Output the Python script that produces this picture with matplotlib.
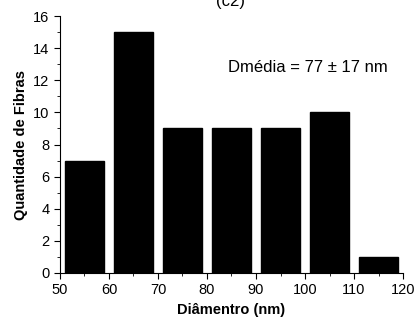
import matplotlib
matplotlib.use("Agg")
import matplotlib.pyplot as plt
from matplotlib.ticker import MultipleLocator

plt.rcParams['font.family'] = ['Liberation Sans', 'DejaVu Sans']

# histogram of fibre diameters
centers = [55, 65, 75, 85, 95, 105, 115]
counts = [7, 15, 9, 9, 9, 10, 1]

fig = plt.figure(figsize=(4.19, 3.23), dpi=100)
ax = fig.add_axes([0.143, 0.155, 0.819, 0.795])

ax.bar(centers, counts, width=8, color='black', edgecolor='black')

ax.set_xlim(50, 120)
ax.set_ylim(0, 16)
ax.xaxis.set_major_locator(MultipleLocator(10))
ax.xaxis.set_minor_locator(MultipleLocator(5))
ax.yaxis.set_major_locator(MultipleLocator(2))
ax.yaxis.set_minor_locator(MultipleLocator(1))
ax.tick_params(which='both', direction='out', labelsize=10.5)
ax.tick_params(which='major', length=4)
ax.tick_params(which='minor', length=2)
for s in ['top', 'right']:
    ax.spines[s].set_visible(False)

ax.set_xlabel('Diâmentro (nm)', fontweight='bold', fontsize=10.5)
ax.set_ylabel('Quantidade de Fibras', fontweight='bold', fontsize=10.5)
ax.text(0.956, 0.80, 'Dmédia = 77 ± 17 nm', transform=ax.transAxes,
        fontsize=12, ha='right', va='center')
fig.text(0.55, 0.995, '(c2)', fontsize=12, ha='center', va='center')

fig.savefig('out.png', dpi=100)
